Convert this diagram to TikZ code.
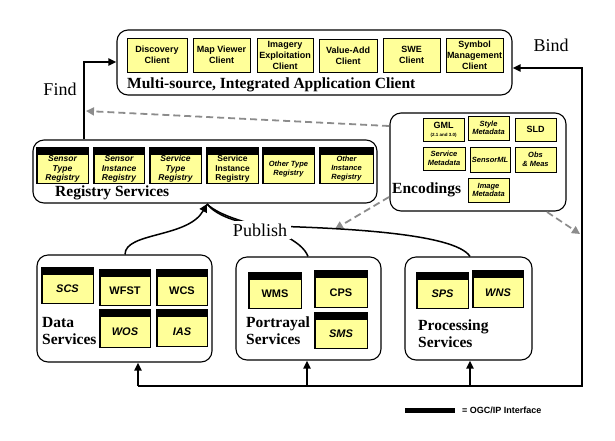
\documentclass[tikz,border=0pt]{standalone}
\usepackage{fontspec}
\setmainfont{Liberation Serif}
\setsansfont{Liberation Sans}
\usetikzlibrary{arrows.meta,fit}
\definecolor{ylw}{HTML}{FFFF99}
\definecolor{dgray}{HTML}{8C8C8C}
\tikzset{
  cont/.style={draw, rounded corners=11pt, line width=1.1pt, inner sep=0pt},
  yb/.style={draw, fill=ylw, line width=0.8pt, inner sep=0pt},
  ct/.style={font=\sffamily\bfseries\fontsize{9}{11}\selectfont, align=center, inner sep=0pt},
  rt/.style={font=\sffamily\bfseries\itshape\fontsize{8.5}{9.5}\selectfont, align=center, inner sep=0pt},
  rtu/.style={font=\sffamily\bfseries\fontsize{8.5}{9.5}\selectfont, align=center, inner sep=0pt},
  rts/.style={font=\sffamily\bfseries\itshape\fontsize{7.5}{9}\selectfont, align=center, inner sep=0pt},
  et/.style={font=\sffamily\bfseries\itshape\fontsize{7.5}{8.5}\selectfont, align=center, inner sep=0pt},
  etu/.style={font=\sffamily\bfseries\fontsize{9}{10}\selectfont, align=center, inner sep=0pt},
  st/.style={font=\sffamily\bfseries\fontsize{11}{12}\selectfont, inner sep=0pt},
  sti/.style={font=\sffamily\bfseries\itshape\fontsize{11}{12}\selectfont, inner sep=0pt},
  biglbl/.style={font=\bfseries\fontsize{15.5}{17}\selectfont, anchor=west, inner sep=0pt, align=left},
  wordlbl/.style={font=\fontsize{18}{20}\selectfont, inner sep=0pt},
  conn/.style={line width=2pt, -{Triangle[length=8pt,width=7pt]}},
  dsh/.style={draw=dgray, line width=1.8pt, dash pattern=on 7pt off 4pt, -{Triangle[length=8pt,width=8pt]}},
  pub/.style={line width=1.5pt},
}
\newcommand{\ybox}[7]{%
  \node[yb, fit={(#2,#3) (#4,#5)}] (#1) {};
  \node[#6] (#1t) at (#1.center) {#7};}
\newcommand{\hybox}[7]{%
  \node[yb, fit={(#2,#3) (#4,#5)}] (#1) {};
  \fill (#1.north west) rectangle ([yshift=-7pt]#1.north east);
  \draw[line width=0.8pt] (#1.north west) rectangle (#1.south east);
  \node[#6] (#1t) at ([yshift=-3.5pt]#1.center) {#7};}
\begin{document}
\begin{tikzpicture}[x=1pt,y=-1pt]
\useasboundingbox (0,0) rectangle (615,440);
% ---------- client ----------
\node[cont, fit={(117,30) (512,95)}] (client) {};
\ybox{disc}{127}{38}{187}{72}{ct}{Discovery\\Client}
\ybox{mapv}{193}{38}{250}{72}{ct}{Map Viewer\\Client}
\ybox{imag}{257}{38}{313}{72}{ct}{Imagery\\Exploitation\\Client}
\ybox{vadd}{319}{39}{377}{72}{ct}{Value-Add\\Client}
\ybox{swe}{383}{38}{440}{72}{ct}{SWE\\Client}
\ybox{symb}{446}{38}{503}{72}{ct}{Symbol\\Management\\Client}
\node[biglbl] (clientlbl) at (127,85) {Multi-source, Integrated Application Client};
% ---------- registry ----------
\node[cont, fit={(33,140) (377,203)}] (reg) {};
\hybox{r1}{37}{148}{88}{183}{rt}{Sensor\\Type\\Registry}
\hybox{r2}{94}{148}{144}{183}{rt}{Sensor\\Instance\\Registry}
\hybox{r3}{150}{148}{201}{183}{rt}{Service\\Type\\Registry}
\hybox{r4}{207}{148}{258}{183}{rtu}{Service\\Instance\\Registry}
\hybox{r5}{263}{148}{314}{183}{rts}{Other Type\\Registry}
\hybox{r6}{320}{148}{373}{183}{rts}{Other\\Instance\\Registry}
\node[biglbl] (reglbl) at (55,193) {Registry Services};
% ---------- encodings ----------
\node[cont, fit={(390,113) (566,211)}] (enc) {};
\ybox{gml}{423}{118}{464}{141}{etu}{GML\\[-2pt]{\fontsize{4.5}{5}\selectfont (2.1 and 3.0)}}
\ybox{stym}{468}{116}{509}{140}{et}{Style\\Metadata}
\ybox{sld}{515}{118}{556}{141}{etu}{SLD}
\ybox{svm}{423}{147}{465}{170}{et}{Service\\Metadata}
\ybox{sml}{470}{147}{510}{172}{et}{SensorML}
\ybox{obs}{515}{147}{556}{172}{et}{Obs\\\& Meas}
\ybox{imgm}{468}{178}{509}{202}{et}{Image\\Metadata}
\node[biglbl] (enclbl) at (392,190) {Encodings};
% ---------- data services ----------
\node[cont, fit={(37,255) (212,362)}] (data) {};
\hybox{scs}{42}{268}{93}{303}{sti}{SCS}
\hybox{wfst}{100}{270}{150}{305}{st}{WFST}
\hybox{wcs}{157}{270}{207}{305}{st}{WCS}
\hybox{wos}{100}{310}{150}{347}{sti}{WOS}
\hybox{ias}{157}{310}{207}{346}{sti}{IAS}
\node[biglbl] (datalbl) at (42,331) {Data\\Services};
% ---------- portrayal ----------
\node[cont, fit={(236,257) (381,360)}] (port) {};
\hybox{wms}{249}{273}{301}{308}{st}{WMS}
\hybox{cps}{315}{271}{367}{307}{st}{CPS}
\hybox{sms}{315}{313}{367}{348}{sti}{SMS}
\node[biglbl] (portlbl) at (246,331) {Portrayal\\Services};
% ---------- processing ----------
\node[cont, fit={(405,257) (532,360)}] (proc) {};
\hybox{sps}{417}{273}{468}{308}{sti}{SPS}
\hybox{wns}{473}{271}{523}{307}{sti}{WNS}
\node[biglbl] (proclbl) at (418,334) {Processing\\Services};
% ---------- find ----------
\coordinate (findc) at (84,62);
\draw[conn] (reg.north -| findc) -- (findc) -- (client.west |- findc);
\node[wordlbl] (findlbl) at (60,89) {Find};
% ---------- bind ----------
\coordinate (bl) at (138,386);
\coordinate (br) at (582,386);
\coordinate (bt) at (582,68);
\coordinate (pa) at (307,386);
\coordinate (pb) at (470,386);
\draw[conn] (bl) -- (br) -- (bt) -- (client.east |- bt);
\draw[conn] (bl) -- (bl |- data.south);
\draw[conn] (pa) -- (pa |- port.south);
\draw[conn] (pb) -- (pb |- proc.south);
\node[wordlbl] (bindlbl) at (551,45) {Bind};
% ---------- dashed ----------
\coordinate (d1s) at (389,126);
\coordinate (d1e) at (86,111);
\coordinate (d2s) at (389,197);
\coordinate (d2e) at (335,229);
\coordinate (d3s) at (547,212);
\coordinate (d3e) at (580,234);
\draw[dsh] (d1s) -- (d1e);
\draw[dsh] (d2s) -- (d2e);
\draw[dsh] (d3s) -- (d3e);
% ---------- publish ----------
\coordinate (tip) at (207,204);
\draw[pub, -{Triangle[length=8pt,width=8pt]}] (data.north -| 125,0) .. controls (125,232) and (188,238) .. (tip);
\draw[pub] (proc.north -| 470,0) .. controls (455,233) and (340,228) .. (270,226) .. controls (235,224) and (215,214) .. (tip);
\draw[pub] (port.north -| 308,0) .. controls (302,240) and (270,228) .. (245,222) .. controls (225,216) and (213,210) .. (tip);
\node[wordlbl, fill=white, inner xsep=4pt, inner ysep=3pt] (publbl) at (260,230) {Publish};
% ---------- legend ----------
\node[fill=black, minimum width=50pt, minimum height=5pt, inner sep=0pt] (legbar) at (430,410.5) {};
\node[anchor=west, font=\sffamily\bfseries\fontsize{9}{10}\selectfont, inner sep=0pt] (legtxt) at (462,410.5) {= OGC/IP Interface};
\end{tikzpicture}
\end{document}
